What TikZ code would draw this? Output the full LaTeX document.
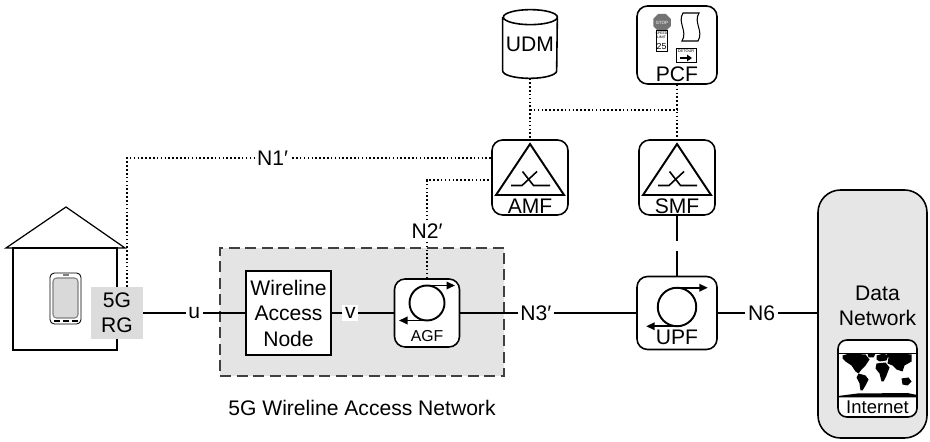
\documentclass[tikz,border=0pt]{standalone}
\usepackage{fontspec}
\setmainfont{Liberation Sans}
\usetikzlibrary{arrows.meta,positioning,shapes.geometric}
\definecolor{netgray}{HTML}{E4E4E4}
\definecolor{rggray}{HTML}{DCDCDC}
\definecolor{dngray}{HTML}{E6E6E6}
\tikzset{
  nfbox/.style={rectangle, draw, rounded corners=6pt, fill=white, line width=0.9pt, minimum width=1.52cm, minimum height=1.5cm},
  nfname/.style={inner sep=0pt, anchor=south},
  nodebox/.style={rectangle, draw, fill=white, line width=0.9pt, align=center, minimum width=1.7cm, minimum height=1.68cm, inner sep=1pt},
  rgbox/.style={rectangle, fill=rggray, align=center, minimum size=1.04cm, inner sep=0pt},
  accnet/.style={rectangle, draw=black!75, fill=netgray, line width=0.9pt, dash pattern=on 2.2mm off 1.1mm, minimum width=5.68cm, minimum height=2.56cm},
  dnbox/.style={rectangle, draw, rounded corners=0.45cm, fill=dngray, line width=0.9pt, minimum width=2.18cm, minimum height=4.96cm},
  housewall/.style={line width=0.7pt},
  link/.style={line width=0.6pt},
  ctrl/.style={line width=0.8pt, dash pattern=on 0.9pt off 1.3pt},
  iface/.style={fill=white, inner sep=1.5pt},
  tip/.style={-{Triangle[length=1.7mm,width=1.5mm]}},
  cycleicon/.pic={
    \draw[line width=1.1pt] (0,0.2) circle[radius=0.35];
    \draw[line width=1pt, tip] (0,0.55) -- (0.56,0.55);
    \draw[line width=1pt, tip] (0,-0.15) -- (-0.56,-0.15);
  },
  gateicon/.pic={
    \draw[line width=1.1pt] (0,0.67) -- (-0.68,-0.35) -- (0.68,-0.35) -- cycle;
    \draw[line width=0.9pt] (-0.38,-0.16) -- (-0.16,-0.16) -- (0.14,0.12);
    \draw[line width=0.9pt] (-0.15,0.12) -- (0.07,-0.16) -- (0.40,-0.16);
  },
  policyicon/.pic={
    \node[regular polygon, regular polygon sides=8, fill=black!55, minimum size=0.36cm, inner sep=0pt, text=white, font=\fontsize{2.6}{3}\selectfont] at (-0.30,0.45) {STOP};
    \draw[line width=0.6pt, fill=white] (0.12,0.64) -- (0.44,0.64) .. controls (0.32,0.45) and (0.54,0.28) .. (0.42,0.08) -- (0.10,0.08) .. controls (0.22,0.28) and (0.00,0.45) .. (0.12,0.64) -- cycle;
    \draw[line width=0.5pt] (-0.42,-0.13) rectangle (-0.20,0.29);
    \node[font=\fontsize{2}{2.2}\selectfont, inner sep=0pt, align=center] at (-0.31,0.19) {SPEED\\LIMIT};
    \node[font=\fontsize{5}{5}\selectfont, inner sep=0pt] at (-0.31,-0.02) {25};
    \draw[line width=0.5pt] (-0.02,-0.35) rectangle (0.38,-0.07);
    \node[font=\fontsize{2.2}{2.4}\selectfont, inner sep=0pt] at (0.18,-0.13) {DETOUR};
    \draw[line width=1.2pt, -{Triangle[length=1mm,width=1.3mm]}] (0.06,-0.26) -- (0.30,-0.26);
  }
}

\begin{document}
\begin{tikzpicture}[font=\fontsize{12}{14.5}\selectfont]
  \useasboundingbox (0,0) rectangle (18.6,8.84);

  \node[accnet] (accnet) at (7.24,2.60) {};
  \node[below=3.5mm of accnet.south] (accname) {5G Wireline Access Network};

  % home with the handset
  \draw[housewall] (0.26,1.84) rectangle (2.34,3.88);
  \draw[housewall] (0.12,3.88) -- (1.32,4.70) -- (2.50,3.88) -- cycle;
  \draw[line width=0.5pt, rounded corners=2.5pt] (1.00,2.36) rectangle (1.62,3.38);
  \draw[black!50, fill=black!15, line width=0.6pt, rounded corners=2pt] (1.06,2.48) rectangle (1.56,3.28);
  \draw[black!50, line width=1pt] (1.25,3.34) -- (1.37,3.34);
  \foreach \x in {1.13,1.31,1.49}
    \draw[line width=1.1pt] ({\x-0.06},2.42) -- ({\x+0.06},2.42);

  \node[rgbox] (rg) at (2.34,2.58) {5G\\RG};
  \node[nodebox] (wan) at (5.77,2.58) {Wireline\\Access\\Node};
  \node[nfbox, minimum width=1.30cm, minimum height=1.36cm] (agf) at (8.54,2.58) {};
  \node[nfbox, minimum width=1.60cm, minimum height=1.46cm] (upf) at (13.54,2.58) {};
  \node[nfbox] (amf) at (10.60,5.29) {};
  \node[nfbox] (smf) at (13.54,5.29) {};
  \node[nfbox, minimum width=1.60cm, minimum height=1.56cm] (pcf) at (13.54,7.94) {};
  \node[minimum width=1.08cm, minimum height=1.36cm, inner sep=0pt] (udm) at (10.60,7.96) {UDM};
  \draw[line width=0.9pt] ([yshift=-1.5mm]udm.north west) -- ([yshift=1.5mm]udm.south west)
    arc[start angle=180, end angle=360, x radius=5.4mm, y radius=1.5mm]
    -- ([yshift=-1.5mm]udm.north east)
    arc[start angle=0, end angle=360, x radius=5.4mm, y radius=1.5mm];
  \node[dnbox] (dn) at (17.45,2.56) {};
  \node[align=center] (dnname) at (17.55,2.72) {Data\\Network};
  \node[nfbox, minimum width=1.58cm, minimum height=1.54cm, rounded corners=5pt] (inet) at (17.55,1.27) {};

  \pic at (agf.center) {cycleicon};
  \pic[scale=1.1] at ([yshift=-1mm]upf.center) {cycleicon};
  \pic at (amf.center) {gateicon};
  \pic at (smf.center) {gateicon};
  \pic at (pcf.center) {policyicon};

  \node[nfname] (amfname) at ([yshift=0.3mm]amf.south) {AMF};
  \node[nfname] (smfname) at ([yshift=0.3mm]smf.south) {SMF};
  \node[nfname, font=\fontsize{9}{10}\selectfont] (agfname) at ([yshift=1.2mm]agf.south) {AGF};
  \node[nfname] (upfname) at ([yshift=1mm]upf.south) {UPF};
  \node[nfname] (pcfname) at ([yshift=0.6mm]pcf.south) {PCF};
  \node[nfname, font=\fontsize{10.5}{12}\selectfont] (inetname) at ([yshift=0.8mm]inet.south) {Internet};

  % world map
  \begin{scope}[shift={(inet.center)}, x=0.2mm, y=-0.2mm]
    \draw[line width=0.4pt] (-39.5,-25) -- (39.5,-25);
    \fill (-35,-23) -- (-28,-25) -- (-12,-24) -- (-8,-19) -- (-12,-13) -- (-16,-9) -- (-19,-5) -- (-22,-7) -- (-26,-13) -- (-32,-17) -- (-35,-20) -- cycle;
    \fill (-10,-25) -- (-2,-25) -- (-4,-21) -- (-9,-21) -- cycle;
    \fill (-19,-5) -- (-12,-3) -- (-9,1) -- (-12,7) -- (-15,12) -- (-17,12) -- (-18,5) -- (-21,-1) -- cycle;
    \fill (-1,-23) -- (6,-25) -- (11,-23) -- (9,-18) -- (2,-17) -- (-1,-19) -- cycle;
    \fill (-1,-15) -- (8,-16) -- (12,-11) -- (9,-3) -- (6,3) -- (4,3) -- (2,-5) -- (-2,-10) -- cycle;
    \fill (9,-25) -- (22,-25) -- (34,-24) -- (34,-17) -- (27,-13) -- (25,-7) -- (19,-9) -- (15,-13) -- (10,-15) -- (11,-21) -- cycle;
    \fill (24,0) -- (31,-1) -- (34,3) -- (30,7) -- (25,6) -- cycle;
    \fill (-39.5,19) -- (-39.5,17.5) -- (-20,15) -- (30,14.5) -- (39.5,16.5) -- (39.5,19) -- cycle;
  \end{scope}

  \coordinate (n1bend) at (2.54,5.68);
  \coordinate (n2bend) at (8.54,5.24);
  \coordinate (bus) at (10.60,6.64);

  \draw[link] (rg) -- node[iface] {u} (wan);
  \draw[link] (wan) -- node[iface, pos=0.3] {v} (agf);
  \draw[link] (agf) -- node[iface, pos=0.43] {N3′} (upf);
  \draw[link] (upf) -- node[iface, pos=0.44] {N6} (upf -| dn.west);
  \draw[link, dash pattern=on 5mm off 2mm] (smf) -- (upf);

  \draw[ctrl] (rg.north -| n1bend) -- (n1bend) -- node[iface, pos=0.4] {N1′} (amf.west |- n1bend);
  \draw[ctrl] (agf) -- node[iface, pos=0.48] {N2′} (n2bend) -- (amf.west |- n2bend);
  \draw[ctrl] (udm) -- (amf);
  \draw[ctrl] (pcf) -- (smf);
  \draw[ctrl] (bus) -- (pcf.south |- bus);
\end{tikzpicture}
\end{document}
